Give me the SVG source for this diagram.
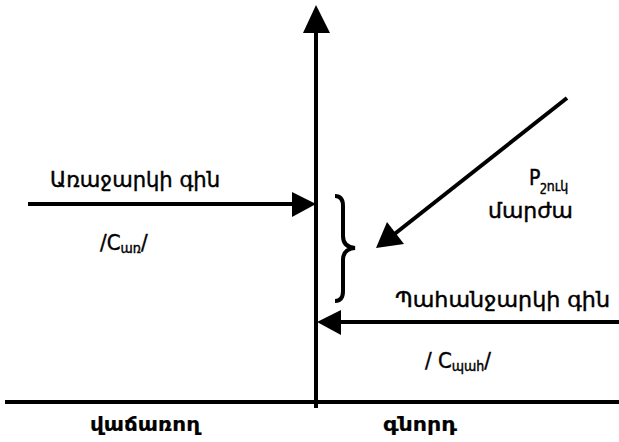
<svg xmlns="http://www.w3.org/2000/svg" width="619" height="442" viewBox="0 0 619 442">
<style>
.t{font-family:"DejaVu Sans Condensed","DejaVu Sans","Noto Sans",sans-serif;font-size:22px;fill:#000;stroke:#000;stroke-width:0.4}
.b{font-weight:bold;font-size:20px;stroke-width:0.2}
.s{font-size:14px}
.ln{stroke:#000;stroke-width:4;fill:none}
</style>
<rect width="619" height="442" fill="#fff"/>
<g id="connectors">
<line class="ln" x1="316" y1="30" x2="316" y2="408"/>
<polygon points="316,5 303,33 330,33"/>
<line class="ln" x1="5" y1="402" x2="619" y2="402"/>
<line class="ln" x1="28" y1="204" x2="296" y2="204"/>
<polygon points="316,204 292,192 292,217"/>
<line class="ln" x1="619" y1="322" x2="338" y2="322"/>
<polygon points="317,322 341,310 341,335"/>
<line class="ln" x1="567" y1="98" x2="392" y2="236"/>
<polygon points="376,248 387,222 404,244"/>
</g>
<g id="brace">
<path class="ln" stroke-width="3" d="M335,196 Q343,196 343,206 L343,236 Q343,247 355,248 Q343,249 343,260 L343,291 Q343,301 335,301"/>
</g>
<g id="supply">
<text class="t" x="50" y="187" textLength="170" lengthAdjust="spacingAndGlyphs">Առաջարկի գին</text>
<text class="t" x="100" y="250">/C<tspan class="s" dy="3">առ</tspan><tspan dy="-3">/</tspan></text>
</g>
<g id="market">
<text class="t" x="529" y="185" style="font-size:21px">P<tspan class="s" dy="6">շուկ</tspan></text>
<text class="t" x="488" y="218" textLength="85" lengthAdjust="spacingAndGlyphs">մարժա</text>
</g>
<g id="demand">
<text class="t" x="395" y="307" textLength="215" lengthAdjust="spacingAndGlyphs">Պահանջարկի գին</text>
<text class="t" x="425" y="368">/ C<tspan class="s" dy="3">պահ</tspan><tspan dy="-3">/</tspan></text>
</g>
<g id="axis-labels">
<text class="t b" x="90" y="431" textLength="110" lengthAdjust="spacingAndGlyphs">վաճառող</text>
<text class="t b" x="383" y="431" textLength="74" lengthAdjust="spacingAndGlyphs">գնորդ</text>
</g>
</svg>
